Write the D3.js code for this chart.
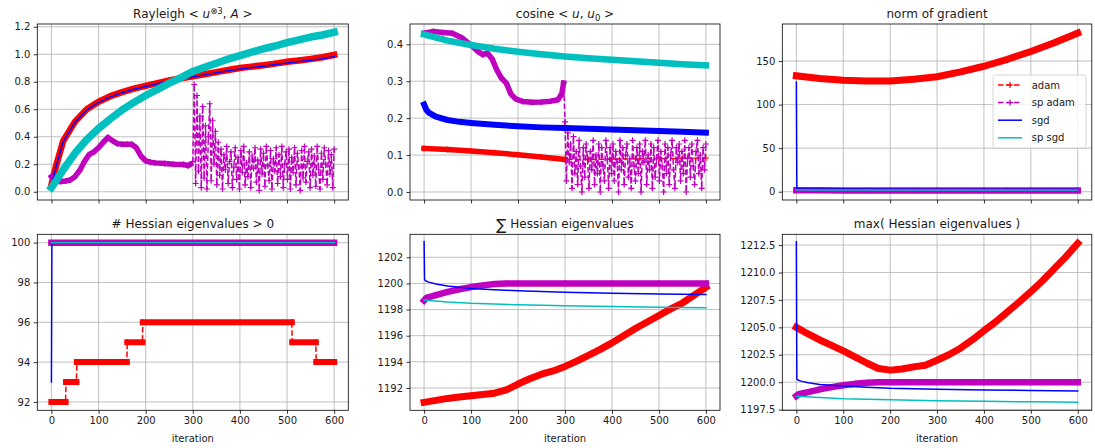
<!DOCTYPE html>
<html>
<head>
<meta charset="utf-8">
<script src="https://cdn.jsdelivr.net/npm/d3@7"></script>
<style>
  body { margin: 0; background: #fff; }
  text { font-family: "DejaVu Sans", sans-serif; fill: #1a1a1a; }
</style>
</head>
<body>
<svg id="chart" width="1095" height="448"></svg>
<script>
// ---- data ----
const iterTicks = [0, 100, 200, 300, 400, 500, 600];
const seriesNames = ["adam", "sp adam", "sgd", "sp sgd"];

// Rayleigh <u^{⊗3}, A>
const rayIter = [0, 10, 25, 50, 75, 100, 125, 150, 175, 200, 225, 250, 275, 300, 325, 350, 375, 400, 425, 450, 475, 500, 525, 550, 575, 600];
const rayAdam = [0.05, 0.19, 0.37, 0.51, 0.60, 0.655, 0.695, 0.725, 0.75, 0.77, 0.79, 0.81, 0.825, 0.84, 0.855, 0.87, 0.885, 0.90, 0.91, 0.92, 0.932, 0.945, 0.955, 0.965, 0.978, 0.995];
const raySgd = [0.05, 0.185, 0.365, 0.505, 0.595, 0.65, 0.69, 0.72, 0.745, 0.765, 0.785, 0.805, 0.82, 0.835, 0.85, 0.865, 0.88, 0.893, 0.903, 0.913, 0.925, 0.937, 0.947, 0.957, 0.968, 0.982];
const raySpSgd = [0.03, 0.08, 0.16, 0.28, 0.38, 0.46, 0.53, 0.595, 0.65, 0.70, 0.745, 0.79, 0.83, 0.875, 0.905, 0.935, 0.965, 0.99, 1.015, 1.04, 1.06, 1.085, 1.105, 1.125, 1.14, 1.16];
const raySpAdamIter = [0, 5, 10, 20, 30, 40, 50, 60, 70, 80, 90, 100, 110, 120, 130, 140, 150, 160, 170, 180, 190, 200, 210, 220, 240, 260, 280, 290, 295];
const raySpAdam = [0.11, 0.085, 0.075, 0.075, 0.078, 0.085, 0.11, 0.155, 0.22, 0.27, 0.29, 0.32, 0.36, 0.395, 0.37, 0.35, 0.345, 0.345, 0.345, 0.32, 0.26, 0.225, 0.215, 0.21, 0.205, 0.2, 0.198, 0.19, 0.2];
const rayNoiseIter = d3.range(300, 601, 3);
const rayNoise = [
  0.22, 0.78, 0.06, 0.70, 0.15, 0.55, 0.03, 0.62, 0.10, 0.48,
  0.02, 0.40, 0.64, 0.08, 0.52, 0.20, 0.44, 0.05, 0.36, 0.12,
  0.31, 0.02, 0.27, 0.16, 0.33, 0.06, 0.22, 0.29, 0.03, 0.18,
  0.32, 0.09, 0.25, 0.02, 0.30, 0.14, 0.33, 0.05, 0.21, 0.11,
  0.29, 0.03, 0.26, 0.17, 0.32, 0.07, 0.23, 0.01, 0.31, 0.13,
  0.28, 0.04, 0.33, 0.19, 0.08, 0.30, 0.02, 0.24, 0.15, 0.32,
  0.06, 0.27, 0.11, 0.33, 0.03, 0.20, 0.29, 0.09, 0.31, 0.02,
  0.25, 0.14, 0.32, 0.05, 0.28, 0.18, 0.01, 0.30, 0.10, 0.33,
  0.07, 0.22, 0.29, 0.03, 0.31, 0.12, 0.26, 0.04, 0.33, 0.16,
  0.02, 0.28, 0.09, 0.32, 0.20, 0.05, 0.30, 0.13, 0.27, 0.03,
  0.31];

// cosine <u, u0>
const cosIter = [0, 50, 100, 150, 200, 250, 300, 350, 400, 450, 500, 550, 600];
const cosAdam = [0.118, 0.115, 0.111, 0.106, 0.101, 0.095, 0.088, 0.088, 0.089, 0.09, 0.091, 0.091, 0.092];
const cosSgdIter = [0, 5, 10, 25, 50, 75, 100, 150, 200, 250, 300, 350, 400, 450, 500, 550, 600];
const cosSgd = [0.237, 0.222, 0.215, 0.204, 0.195, 0.19, 0.187, 0.182, 0.178, 0.175, 0.173, 0.171, 0.169, 0.167, 0.165, 0.163, 0.161];
const cosSpSgd = [0.427, 0.41, 0.398, 0.388, 0.38, 0.373, 0.367, 0.362, 0.358, 0.354, 0.35, 0.346, 0.343];
const cosSpAdamIter = [0, 20, 40, 60, 80, 100, 115, 125, 135, 145, 155, 165, 175, 185, 195, 210, 230, 250, 270, 285, 293, 297];
const cosSpAdam = [0.43, 0.435, 0.432, 0.43, 0.418, 0.398, 0.38, 0.372, 0.376, 0.36, 0.33, 0.308, 0.295, 0.265, 0.252, 0.245, 0.243, 0.244, 0.246, 0.25, 0.265, 0.295];
const cosNoiseIter = d3.range(300, 601, 3);
const cosNoise = [
  0.19, 0.03, 0.16, 0.08, 0.13, 0.01, 0.15, 0.05, 0.11, 0.02,
  0.14, 0.07, 0.00, 0.12, 0.04, 0.13, 0.09, 0.01, 0.11, 0.06,
  0.14, 0.02, 0.10, 0.05, 0.13, 0.00, 0.12, 0.07, 0.03, 0.14,
  0.09, 0.01, 0.12, 0.05, 0.13, 0.03, 0.11, 0.08, 0.00, 0.14,
  0.06, 0.12, 0.02, 0.10, 0.13, 0.04, 0.09, 0.01, 0.14, 0.07,
  0.03, 0.12, 0.05, 0.13, 0.00, 0.11, 0.08, 0.14, 0.02, 0.10,
  0.06, 0.13, 0.01, 0.12, 0.04, 0.09, 0.14, 0.03, 0.11, 0.07,
  0.00, 0.13, 0.05, 0.12, 0.02, 0.10, 0.14, 0.06, 0.01, 0.12,
  0.08, 0.13, 0.03, 0.11, 0.05, 0.14, 0.00, 0.09, 0.12, 0.04,
  0.13, 0.07, 0.02, 0.11, 0.14, 0.05, 0.10, 0.01, 0.12, 0.06,
  0.13];

// norm of gradient
const normIter = [0, 50, 100, 150, 200, 250, 300, 350, 400, 450, 500, 550, 600];
const normAdam = [133, 130, 128, 127, 127, 129, 132, 137.5, 144, 152, 161, 171, 182];
const normSpAdam = [1.8, 1.6, 1.5, 1.5, 1.4, 1.4, 1.4, 1.4, 1.4, 1.4, 1.4, 1.4, 1.4];
const normSgdIter = [0, 1, 10, 100, 300, 600];
const normSgd = [126, 4, 3.5, 3, 2.8, 2.7];
const normSpSgd = [2.2, 2.1, 2.0, 2.0, 1.9, 1.9, 1.9, 1.9, 1.9, 1.9, 1.9, 1.9, 1.9];

// # Hessian eigenvalues > 0  (adam is a step series)
const posStepStart = [0, 31, 54, 161, 194, 511, 562];
const posStepEnd = [30, 53, 160, 193, 510, 561, 600];
const posAdam = [92, 93, 94, 95, 96, 95, 94];
const posIter = [0, 600];
const posSpAdam = [100, 100];
const posSgdIter = [0, 1, 600];
const posSgd = [93, 100, 100];
const posSpSgd = [100, 100];

// sum of Hessian eigenvalues
const hIter = [0, 25, 50, 75, 100, 125, 150, 175, 200, 225, 250, 275, 300, 325, 350, 375, 400, 425, 450, 475, 500, 525, 550, 575, 600];
const sumAdam = [1190.9, 1191.05, 1191.2, 1191.3, 1191.4, 1191.5, 1191.6, 1191.85, 1192.3, 1192.7, 1193.05, 1193.3, 1193.65, 1194.05, 1194.5, 1194.95, 1195.45, 1196.0, 1196.55, 1197.05, 1197.55, 1198.05, 1198.5, 1199.1, 1199.7];
const spAdamIter = [0, 5, 25, 50, 75, 100, 125, 150, 175, 200, 300, 400, 500, 600];
const sumSpAdam = [1198.7, 1198.9, 1199.1, 1199.35, 1199.55, 1199.72, 1199.85, 1199.95, 1200.0, 1200.0, 1200.0, 1200.0, 1200.0, 1200.0];
const sgdIter = [0, 1, 3, 10, 25, 50, 100, 150, 200, 300, 400, 500, 600];
const sumSgd = [1203.2, 1200.3, 1200.2, 1200.1, 1199.95, 1199.8, 1199.62, 1199.52, 1199.44, 1199.32, 1199.25, 1199.2, 1199.15];
const spSgdIter = [0, 50, 100, 200, 300, 400, 500, 600];
const sumSpSgd = [1198.73, 1198.58, 1198.48, 1198.37, 1198.29, 1198.23, 1198.18, 1198.14];

// max of Hessian eigenvalues
const maxAdam = [1205.0, 1204.4, 1203.85, 1203.35, 1202.85, 1202.3, 1201.75, 1201.25, 1201.1, 1201.2, 1201.4, 1201.55, 1202.0, 1202.5, 1203.1, 1203.85, 1204.7, 1205.5, 1206.4, 1207.3, 1208.25, 1209.25, 1210.35, 1211.45, 1212.65];
const maxSpAdam = [1198.75, 1198.9, 1199.1, 1199.35, 1199.55, 1199.72, 1199.85, 1199.95, 1200.0, 1200.0, 1200.0, 1200.0, 1200.0, 1200.0];
const maxSgd = [1212.8, 1200.3, 1200.2, 1200.1, 1199.95, 1199.8, 1199.65, 1199.55, 1199.45, 1199.35, 1199.3, 1199.25, 1199.2];
const maxSpSgd = [1198.72, 1198.6, 1198.5, 1198.4, 1198.32, 1198.26, 1198.21, 1198.17];

// ---- layout ----
const colors = { "adam": "#ff0000", "sp adam": "#bf00bf", "sgd": "#0000ff", "sp sgd": "#00bfbf" };
const colX = [37.3, 410, 782.3];
const colW = [311, 310, 309.5];
const rowY = [24, 234.3];
const axH = 176;

const svg = d3.select("#chart");

// step series -> points at both ends of every step
const posAdamX = [], posAdamY = [];
posAdam.forEach((v, i) => { posAdamX.push(posStepStart[i], posStepEnd[i]); posAdamY.push(v, v); });

const panels = [
  { col: 0, row: 0, yDomain: [-0.06, 1.22], yTicks: [0, 0.2, 0.4, 0.6, 0.8, 1.0, 1.2], fmt: ".1f",
    title: [{ t: "Rayleigh  < " }, { t: "u", it: 1 }, { t: "⊗3", sup: 1 }, { t: ", " }, { t: "A", it: 1 }, { t: " >" }],
    series: [
      { name: "adam", x: rayIter, y: rayAdam, band: 6.5, bandTo: 600 },
      { name: "sp adam", x: raySpAdamIter.concat(rayNoiseIter), y: raySpAdam.concat(rayNoise), band: 5.5, bandTo: 295 },
      { name: "sgd", x: rayIter, y: raySgd, width: 1.5 },
      { name: "sp sgd", x: rayIter, y: raySpSgd, width: 7.5 }
    ] },
  { col: 1, row: 0, yDomain: [-0.0217, 0.455], yTicks: [0, 0.1, 0.2, 0.3, 0.4], fmt: ".1f",
    title: [{ t: "cosine  < " }, { t: "u", it: 1 }, { t: ", " }, { t: "u", it: 1 }, { t: "0", sub: 1 }, { t: " >" }],
    series: [
      { name: "adam", x: cosIter, y: cosAdam, band: 5.5, bandTo: 300 },
      { name: "sp adam", x: cosSpAdamIter.concat(cosNoiseIter), y: cosSpAdam.concat(cosNoise), band: 5.5, bandTo: 297 },
      { name: "sgd", x: cosSgdIter, y: cosSgd, width: 6 },
      { name: "sp sgd", x: cosIter, y: cosSpSgd, width: 6.5 }
    ] },
  { col: 2, row: 0, yDomain: [-9.5, 192.5], yTicks: [0, 50, 100, 150], fmt: "d",
    title: [{ t: "norm of gradient" }], legend: true,
    series: [
      { name: "adam", x: normIter, y: normAdam, band: 7, bandTo: 600 },
      { name: "sp adam", x: normIter, y: normSpAdam, band: 6.5, bandTo: 600 },
      { name: "sgd", x: normSgdIter, y: normSgd, width: 1.5 },
      { name: "sp sgd", x: normIter, y: normSpSgd, width: 1.5 }
    ] },
  { col: 0, row: 1, yDomain: [91.58, 100.42], yTicks: [92, 94, 96, 98, 100], fmt: "d",
    title: [{ t: "# Hessian eigenvalues > 0" }],
    series: [
      { name: "adam", x: posAdamX, y: posAdamY, band: 6, bandTo: 600, flat: true },
      { name: "sp adam", x: posIter, y: posSpAdam, band: 6.5, bandTo: 600 },
      { name: "sgd", x: posSgdIter, y: posSgd, width: 1.5 },
      { name: "sp sgd", x: posIter, y: posSpSgd, width: 1.5 }
    ] },
  { col: 1, row: 1, yDomain: [1190.29, 1203.76], yTicks: [1192, 1194, 1196, 1198, 1200, 1202], fmt: "d",
    title: [{ t: "∑", size: 15, sub: 1, shift: 1.5 }, { t: " Hessian eigenvalues" }],
    series: [
      { name: "adam", x: hIter, y: sumAdam, band: 7, bandTo: 600 },
      { name: "sp adam", x: spAdamIter, y: sumSpAdam, band: 6.5, bandTo: 600 },
      { name: "sgd", x: sgdIter, y: sumSgd, width: 1.5 },
      { name: "sp sgd", x: spSgdIter, y: sumSpSgd, width: 1.5 }
    ] },
  { col: 2, row: 1, yDomain: [1197.44, 1213.48], yTicks: [1197.5, 1200, 1202.5, 1205, 1207.5, 1210, 1212.5], fmt: ".1f",
    title: [{ t: "max( Hessian eigenvalues )" }],
    series: [
      { name: "adam", x: hIter, y: maxAdam, band: 7, bandTo: 600 },
      { name: "sp adam", x: spAdamIter, y: maxSpAdam, band: 6.5, bandTo: 600 },
      { name: "sgd", x: sgdIter, y: maxSgd, width: 1.5 },
      { name: "sp sgd", x: spSgdIter, y: maxSpSgd, width: 1.5 }
    ] }
];

function plusMarks(g, pts, col) {
  g.append("path")
    .attr("d", pts.map(p => `M${p[0] - 3},${p[1]}H${p[0] + 3}M${p[0]},${p[1] - 3}V${p[1] + 3}`).join(""))
    .attr("fill", "none").attr("stroke", col).attr("stroke-width", 1.2);
}

function drawSeries(g, s, x, y) {
  const col = colors[s.name];
  const pts = s.x.map((v, i) => [x(v), y(s.y[i])]);
  const line = d3.line();
  const marked = s.name === "adam" || s.name === "sp adam";
  if (s.band) {
    // dense markers in the original form a solid band; draw it as a thick stroke
    const runs = [];
    let cur = null;
    for (let i = 0; i < pts.length - 1; i++) {
      const ok = s.x[i + 1] <= s.bandTo && (!s.flat || s.y[i] === s.y[i + 1]);
      if (ok) {
        if (!cur) { cur = [pts[i]]; runs.push(cur); }
        cur.push(pts[i + 1]);
      } else cur = null;
    }
    runs.forEach(r => g.append("path").attr("d", line(r))
      .attr("fill", "none").attr("stroke", col).attr("stroke-width", s.band)
      .attr("stroke-linejoin", "round").attr("stroke-linecap", "square"));
  }
  if (marked) {
    g.append("path").attr("d", line(pts))
      .attr("fill", "none").attr("stroke", col).attr("stroke-width", 1.5)
      .attr("stroke-dasharray", "5.55,2.4").attr("stroke-linejoin", "round");
    plusMarks(g, pts, col);
  } else {
    g.append("path").attr("d", line(pts))
      .attr("fill", "none").attr("stroke", col).attr("stroke-width", s.width)
      .attr("stroke-linejoin", "round").attr("stroke-linecap", "square");
  }
}

panels.forEach((p, pi) => {
  const left = colX[p.col], top = rowY[p.row], w = colW[p.col];
  const x = d3.scaleLinear().domain([-30, 630]).range([0, w]);
  const y = d3.scaleLinear().domain(p.yDomain).range([axH, 0]);
  const g = svg.append("g").attr("transform", `translate(${left},${top})`);

  // grid
  const grid = g.append("g").attr("stroke", "#b0b0b0").attr("stroke-width", 0.8);
  iterTicks.forEach(t => grid.append("line").attr("x1", x(t)).attr("x2", x(t)).attr("y1", 0).attr("y2", axH));
  p.yTicks.forEach(t => grid.append("line").attr("x1", 0).attr("x2", w).attr("y1", y(t)).attr("y2", y(t)));

  // data
  const cid = "clip" + pi;
  g.append("clipPath").attr("id", cid).append("rect").attr("width", w).attr("height", axH);
  const plot = g.append("g").attr("clip-path", `url(#${cid})`);
  p.series.forEach(s => drawSeries(plot, s, x, y));

  // axes
  const xAxis = d3.axisBottom(x).tickValues(iterTicks).tickSize(3.5).tickPadding(3.5);
  if (p.row === 0) xAxis.tickFormat("");
  const ya = d3.axisLeft(y).tickValues(p.yTicks).tickSize(3.5).tickPadding(3.5).tickFormat(d3.format(p.fmt));
  const gx = g.append("g").attr("transform", `translate(0,${axH})`).call(xAxis);
  const gy = g.append("g").call(ya);
  [gx, gy].forEach(a => {
    a.select(".domain").remove();
    a.selectAll(".tick line").attr("stroke", "#000").attr("stroke-width", 0.8);
    a.selectAll(".tick text").attr("font-size", 10).attr("font-family", "DejaVu Sans").attr("fill", "#1a1a1a");
  });
  g.append("rect").attr("width", w).attr("height", axH)
    .attr("fill", "none").attr("stroke", "#000").attr("stroke-width", 0.8);

  if (p.row === 1) {
    g.append("text").attr("x", w / 2).attr("y", axH + 32).attr("text-anchor", "middle")
      .attr("font-size", 10).text("iteration");
  }

  // title with simple math pieces
  const tt = g.append("text").attr("x", w / 2).attr("y", -6).attr("text-anchor", "middle").attr("font-size", 12);
  let shift = 0;
  p.title.forEach(pc => {
    const target = pc.sup ? -4.5 : pc.sub ? (pc.shift || 2.5) : 0;
    const ts = tt.append("tspan").text(pc.t);
    if (target - shift !== 0) ts.attr("dy", target - shift);
    shift = target;
    if (pc.it) ts.attr("font-style", "italic");
    if (pc.sup || (pc.sub && !pc.size)) ts.attr("font-size", 8.5);
    if (pc.size) ts.attr("font-size", pc.size);
  });

  if (p.legend) {
    const lg = g.append("g").attr("transform", "translate(210.7,51)");
    lg.append("rect").attr("width", 93).attr("height", 73).attr("rx", 2.5)
      .attr("fill", "#fff").attr("fill-opacity", 0.8).attr("stroke", "#cccccc").attr("stroke-width", 0.8);
    seriesNames.forEach((n, i) => {
      const yy = 10 + i * 17.6;
      const ln = lg.append("line").attr("x1", 5).attr("x2", 29).attr("y1", yy).attr("y2", yy)
        .attr("stroke", colors[n]).attr("stroke-width", 1.5);
      if (i < 2) {
        ln.attr("stroke-dasharray", "5.55,2.4");
        plusMarks(lg, [[17, yy]], colors[n]);
      }
      lg.append("text").attr("x", 38.7).attr("y", yy + 3.6).attr("font-size", 10).text(n);
    });
  }
});
</script>
</body>
</html>
